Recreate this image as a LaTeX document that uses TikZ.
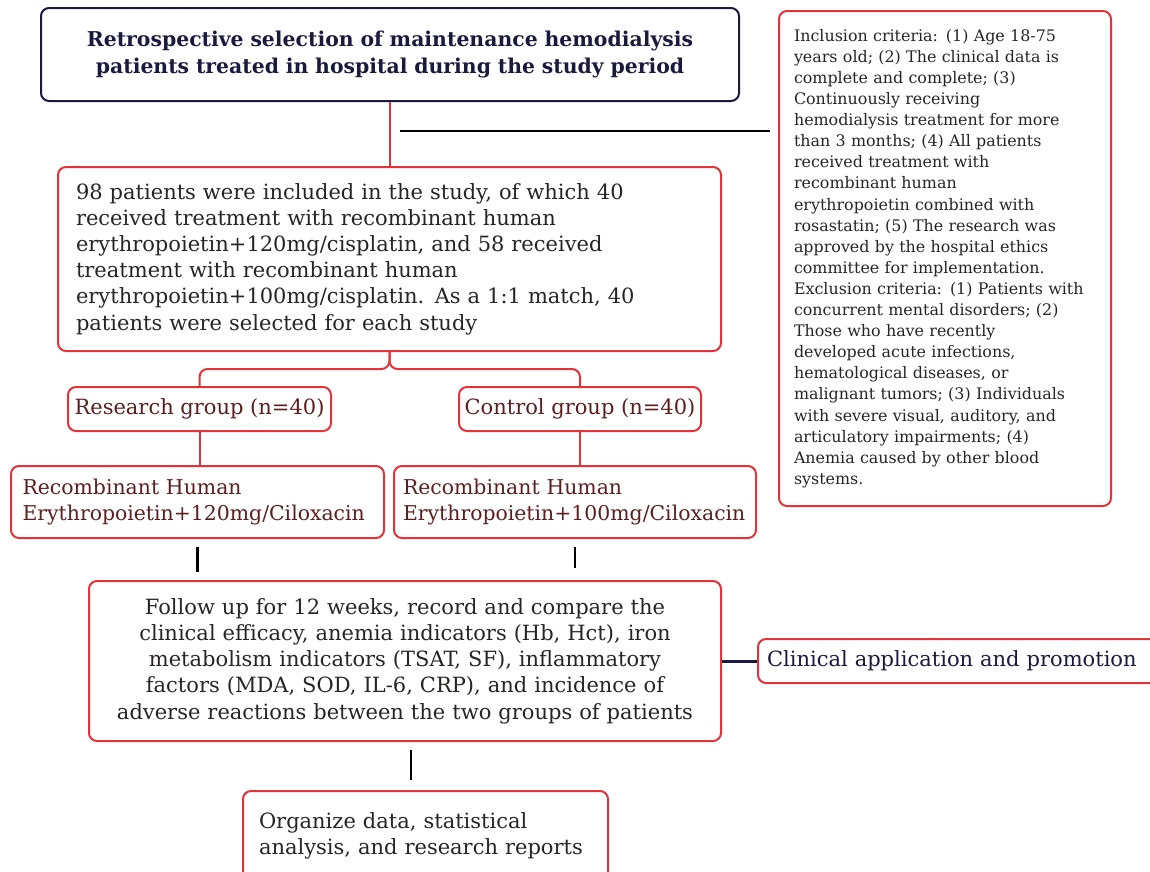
\documentclass[tikz,border=0pt]{standalone}
\usepackage{fontspec}
\setmainfont{DejaVu Serif}
\usetikzlibrary{positioning,calc}

\definecolor{boxred}{RGB}{228,50,56}
\definecolor{navy}{RGB}{26,26,62}
\definecolor{maroon}{RGB}{92,30,30}
\definecolor{ink}{RGB}{40,36,36}

\begin{document}
\begin{tikzpicture}[x=1pt, y=-1pt,
  box/.style   = {rectangle, draw=boxred, line width=2pt, rounded corners=8pt,
                  anchor=north west, inner xsep=0pt, inner ysep=0pt, text=ink,
                  font=\fontsize{21}{26.2}\selectfont},
  headbox/.style = {box, draw=navy, text=navy,
                  font=\fontsize{20.4}{26.5}\selectfont\bfseries},
  grpbox/.style  = {box, text=maroon},
  drugbox/.style = {grpbox, font=\fontsize{20.4}{26.2}\selectfont},
  critbox/.style = {box, font=\fontsize{15.9}{21.1}\selectfont},
  redline/.style = {draw=boxred, line width=2pt},
  blkline/.style = {draw=black, line width=2.4pt},
  navline/.style = {draw=navy, line width=3pt}
]
\useasboundingbox (0,0) rectangle (1150,871);

% ,  Main column ,
\node[headbox, minimum width=698pt, minimum height=93pt, text width=680pt, align=center]
  (select) at (40,7)
  {Retrospective selection of maintenance hemodialysis\\patients treated in hospital during the study period};

\node[box, minimum width=663pt, minimum height=184pt, text width=627pt, align=left]
  (incl) at (57,166)
  {98 patients were included in the study, of which 40\\
   received treatment with recombinant human\\
   erythropoietin+120mg/cisplatin, and 58 received\\
   treatment with recombinant human\\
   erythropoietin+100mg/cisplatin. As a 1:1 match, 40\\
   patients were selected for each study};

% ,  Criteria box (right) ,
\node[critbox, minimum width=332pt, minimum height=495pt, text width=302pt, align=left]
  (crit) at (778,10)
  {Inclusion criteria: (1) Age 18-75\\
   years old; (2) The clinical data is\\
   complete and complete; (3)\\
   Continuously receiving\\
   hemodialysis treatment for more\\
   than 3 months; (4) All patients\\
   received treatment with\\
   recombinant human\\
   erythropoietin combined with\\
   rosastatin; (5) The research was\\
   approved by the hospital ethics\\
   committee for implementation.\\
   Exclusion criteria: (1) Patients with\\
   concurrent mental disorders; (2)\\
   Those who have recently\\
   developed acute infections,\\
   hematological diseases, or\\
   malignant tumors; (3) Individuals\\
   with severe visual, auditory, and\\
   articulatory impairments; (4)\\
   Anemia caused by other blood\\
   systems.};

% ,  Groups ,
\node[grpbox, minimum width=263pt, minimum height=44pt] (resgrp) at (67,386)
  {Research group (n=40)};
\node[grpbox, minimum width=242pt, minimum height=44pt] (ctrlgrp) at (458,386)
  {Control group (n=40)};

\node[drugbox, minimum width=373pt, minimum height=72pt, text width=350pt, align=left]
  (trtA) at (10,465)
  {Recombinant Human\\Erythropoietin+120mg/Ciloxacin};
\node[drugbox, minimum width=362pt, minimum height=72pt, text width=344pt, align=left]
  (trtB) at (393,465)
  {Recombinant Human\\Erythropoietin+100mg/Ciloxacin};

% ,  Follow-up and outcome ,
\node[box, minimum width=632pt, minimum height=160pt, text width=620pt, align=center]
  (follow) at (88,580)
  {Follow up for 12 weeks, record and compare the\\
   clinical efficacy, anemia indicators (Hb, Hct), iron\\
   metabolism indicators (TSAT, SF), inflammatory\\
   factors (MDA, SOD, IL-6, CRP), and incidence of\\
   adverse reactions between the two groups of patients};

\node[box, text=navy, minimum width=400pt, minimum height=44pt, text width=396pt, align=left]
  (clinic) at (757,638)
  {\hspace*{7pt}Clinical application and promotion};

\node[box, minimum width=365pt, minimum height=90pt, text width=333pt, align=left]
  (organize) at (242,790)
  {Organize data, statistical\\analysis, and research reports};

% ,  Connectors ,
\coordinate (tap) at (400,131);
\draw[redline] (select.south) -- (select.south |- incl.north);
\draw[blkline, shorten >=8pt] (tap) -- (tap -| crit.west);

\draw[redline, rounded corners=8pt] (incl.south) -- ++(0,17) -| (resgrp.north);
\draw[redline, rounded corners=8pt] (incl.south) -- ++(0,17) -| (ctrlgrp.north);

\draw[redline] (resgrp.south)  -- (resgrp.south |- trtA.north);
\draw[redline] (ctrlgrp.south) -- (ctrlgrp.south |- trtB.north);

\draw[blkline, shorten <=8pt, shorten >=8pt] (trtA.south) -- (trtA.south |- follow.north);
\draw[blkline, shorten <=8pt, shorten >=12pt] (trtB.south) -- (trtB.south |- follow.north);

\draw[navline] (follow.east) -- (clinic.west);
\draw[blkline, shorten <=8pt, shorten >=10pt] ([xshift=6pt]follow.south) -- ([xshift=6pt]follow.south |- organize.north);

\end{tikzpicture}
\end{document}
